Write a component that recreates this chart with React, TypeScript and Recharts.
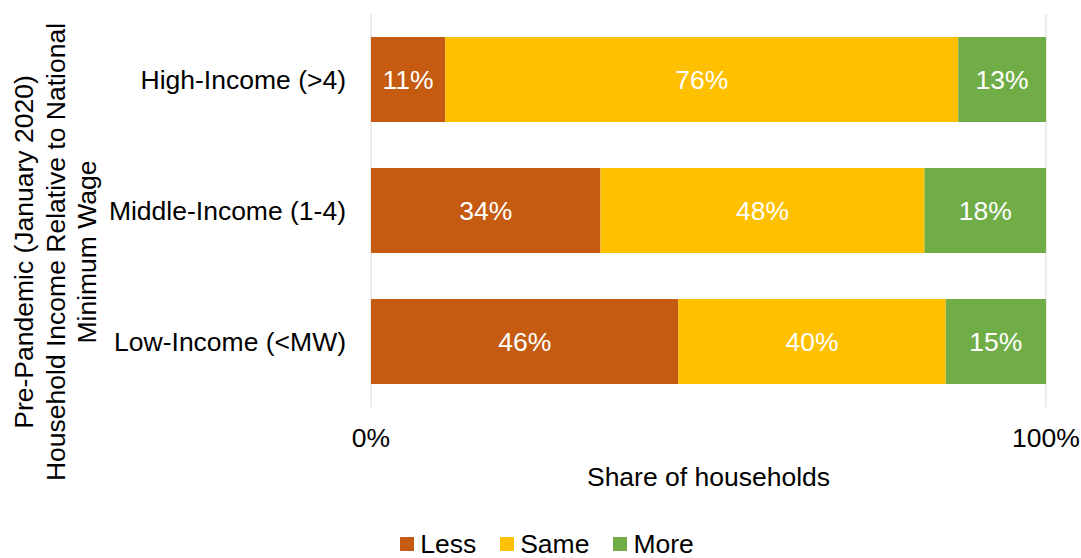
import React from "react";
import { BarChart, Bar, XAxis, YAxis, CartesianGrid, Legend, LabelList } from "recharts";

const categories = ["High-Income (>4)", "Middle-Income (1-4)", "Low-Income (<MW)"];
const lessShare = [11, 34, 46];
const sameShare = [76, 48, 40];
const moreShare = [13, 18, 15];
const xTicks = [0, 1];

const series = [
  { key: "less", name: "Less", color: "#C55A11" },
  { key: "same", name: "Same", color: "#FFC000" },
  { key: "more", name: "More", color: "#70AD47" },
];

const data = categories.map((name, i) => ({
  name,
  less: lessShare[i],
  same: sameShare[i],
  more: moreShare[i],
}));

const FONT = "'Liberation Sans', Arial, sans-serif";
const FS = 26.5;

// three-line rotated title on the left
const YTitle = () => (
  <text
    transform="translate(56, 252) rotate(-90)"
    textAnchor="middle"
    dominantBaseline="central"
    fontSize={FS}
    fill="#000"
    fontFamily={FONT}
  >
    <tspan x={0} y={-32}>Pre-Pandemic (January 2020)</tspan>
    <tspan x={0} y={0}>Household Income Relative to National</tspan>
    <tspan x={0} y={31}>Minimum Wage</tspan>
  </text>
);

const LegendContent = () => (
  <div
    style={{
      display: "flex",
      justifyContent: "center",
      alignItems: "flex-end",
      boxSizing: "border-box",
      height: 61,
      paddingLeft: 48,
      paddingBottom: 1,
      fontFamily: FONT,
      fontSize: FS,
      lineHeight: "26px",
      color: "#000",
    }}
  >
    {series.map((s) => (
      <div key={s.key} style={{ display: "flex", alignItems: "center", margin: "0 12px" }}>
        <span style={{ width: 14, height: 14, background: s.color, display: "inline-block", marginRight: 6 }} />
        <span>{s.name}</span>
      </div>
    ))}
  </div>
);

export default function App() {
  return (
    <div style={{ position: "absolute", left: 0, top: 0, width: 1081, height: 558, background: "#fff", fontFamily: FONT }}>
      <BarChart
        width={1081}
        height={558}
        data={data}
        layout="vertical"
        stackOffset="expand"
        margin={{ top: 14, right: 35, bottom: 0, left: 0 }}
      >
        <CartesianGrid stroke="#D9D9D9" horizontal={false} />
        <XAxis
          type="number"
          domain={[0, 1]}
          ticks={xTicks}
          tickFormatter={(v: number) => `${Math.round(v * 100)}%`}
          axisLine={false}
          tickLine={false}
          tickSize={0}
          tickMargin={21}
          tick={{ fill: "#000", fontSize: FS }}
          height={90}
          label={{ value: "Share of households", position: "insideBottom", offset: 11, fill: "#000", fontSize: FS }}
        />
        <YAxis
          type="category"
          dataKey="name"
          width={371}
          axisLine={false}
          tickLine={false}
          tickSize={0}
          tickMargin={25}
          tick={{ fill: "#000", fontSize: FS }}
          label={{ content: () => <YTitle /> }}
        />
        <Legend verticalAlign="bottom" height={61} content={() => <LegendContent />} wrapperStyle={{ bottom: 0 }} />
        {series.map((s) => (
          <Bar key={s.key} dataKey={s.key} name={s.name} stackId="a" fill={s.color} barSize={85} isAnimationActive={false}>
            <LabelList
              dataKey={s.key}
              position="center"
              fill="#fff"
              fontSize={FS}
              formatter={(v: number) => `${v}%`}
            />
          </Bar>
        ))}
      </BarChart>
    </div>
  );
}
